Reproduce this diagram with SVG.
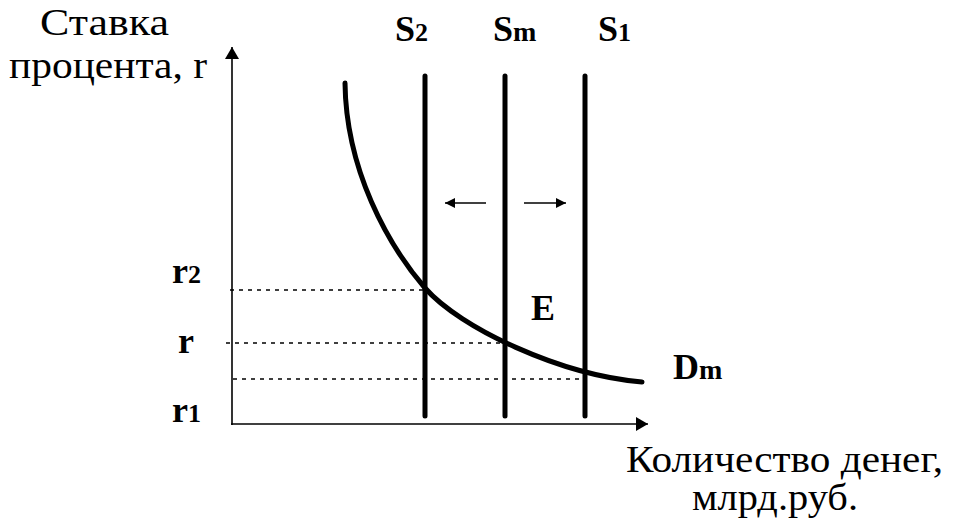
<svg xmlns="http://www.w3.org/2000/svg" width="965" height="518" viewBox="0 0 965 518">
<defs>
<style>
.lbl{font-size:38px;fill:#000}
.b{font-weight:bold;font-size:36px;fill:#000}
.sub{font-size:26px}
.ax{stroke:#000;stroke-width:1.6;fill:none}
.sup{stroke:#000;stroke-width:5;stroke-linecap:round;fill:none}
.dash{stroke:#000;stroke-width:1.5;stroke-dasharray:4 5;fill:none}
.sh{stroke:#000;stroke-width:1.6;fill:none}
</style>
<marker id="ah" viewBox="0 0 10 10" refX="10" refY="5" markerWidth="10" markerHeight="10" markerUnits="userSpaceOnUse" orient="auto">
<path d="M0,0 L10,5 L0,10 Z" fill="#000"/>
</marker>
<marker id="axh" viewBox="0 0 12 14" refX="12" refY="7" markerWidth="12" markerHeight="14" markerUnits="userSpaceOnUse" orient="auto">
<path d="M0,0 L12,7 L0,14 Z" fill="#000"/>
</marker>
</defs>
<rect width="965" height="518" fill="#fff"/>

<g id="axes">
<line class="ax" x1="232" y1="425" x2="232" y2="47" marker-end="url(#axh)"/>
<line class="ax" x1="231" y1="424" x2="648" y2="424" marker-end="url(#axh)"/>
</g>

<g id="connectors">
<line class="dash" x1="230" y1="290" x2="425" y2="290"/>
<line class="dash" x1="226" y1="343" x2="505" y2="343"/>
<line class="dash" x1="233" y1="379" x2="585" y2="379"/>
<line class="sh" x1="486" y1="203" x2="445" y2="203" marker-end="url(#ah)"/>
<line class="sh" x1="524" y1="203" x2="566" y2="203" marker-end="url(#ah)"/>
</g>

<g font-family="Liberation Serif, DejaVu Serif, Times New Roman, serif">
<g id="S2"><line class="sup" x1="425" y1="76" x2="425" y2="416"/>
<text class="b" x="395" y="41">S<tspan class="sub">2</tspan></text></g>
<g id="Sm"><line class="sup" x1="505" y1="76" x2="505" y2="416"/>
<text class="b" x="493" y="41">S<tspan class="sub" style="font-size:28px">m</tspan></text></g>
<g id="S1"><line class="sup" x1="585" y1="76" x2="585" y2="416"/>
<text class="b" x="598" y="41">S<tspan class="sub">1</tspan></text></g>

<g id="Dm">
<path class="sup" d="M345,83 C346,170 388,245 425,288 C460,328 560,375 642,382"/>
<text class="b" x="673" y="379">D<tspan class="sub" style="font-size:28px">m</tspan></text>
</g>

<g id="E"><text class="b" x="531" y="320">E</text></g>

<g id="rlabels">
<text class="b" x="172" y="283">r<tspan class="sub">2</tspan></text>
<text class="b" x="178" y="353">r</text>
<text class="b" x="172" y="422">r<tspan class="sub">1</tspan></text>
</g>

<g id="ylabel">
<text class="lbl" x="40" y="35" textLength="129" lengthAdjust="spacingAndGlyphs">Ставка</text>
<text class="lbl" x="9" y="78" textLength="198" lengthAdjust="spacingAndGlyphs">процента, r</text>
</g>
<g id="xlabel">
<text class="lbl" x="626" y="472" textLength="317" lengthAdjust="spacingAndGlyphs">Количество денег,</text>
<text class="lbl" x="692" y="510" textLength="166" lengthAdjust="spacingAndGlyphs">млрд.руб.</text>
</g>
</g>
</svg>
